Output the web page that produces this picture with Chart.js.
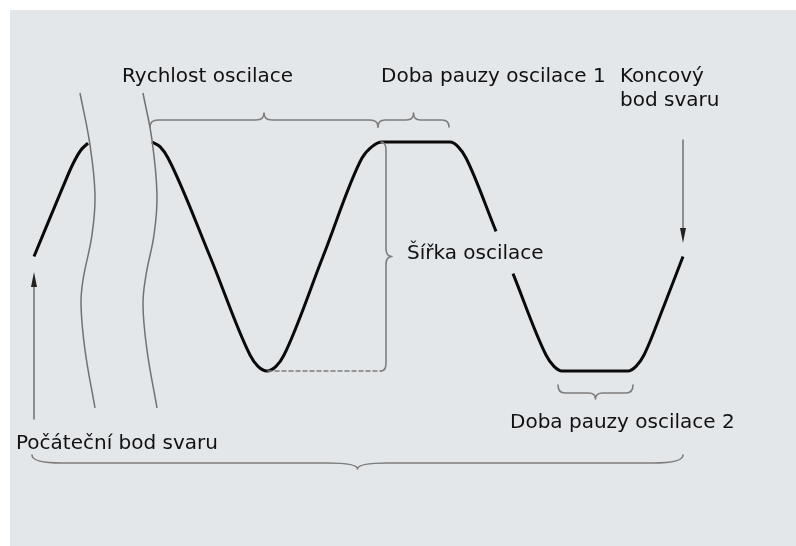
<!DOCTYPE html>
<html lang="cs">
<head>
<meta charset="utf-8">
<title>Oscilace svaru</title>
<script src="https://cdn.jsdelivr.net/npm/chart.js@4.4.1/dist/chart.umd.min.js"></script>
<style>
  html, body { margin: 0; padding: 0; background: #fff; }
  #wrap { width: 796px; height: 546px; }
</style>
</head>
<body>
<div id="wrap"><canvas id="weave" width="796" height="546"></canvas></div>
<script>
// weld path: position along the seam vs. oscillation amplitude (-1 = valley, 1 = peak)
// null = the path is interrupted there (break marks / label)
const weavePos = [34, 63, 73, 81, 88, 120,
  152, 160, 168, 210, 250, 258, 267, 276, 284, 323, 362, 372, 382,
  450, 458, 466, 496, 505,
  513, 546, 554, 562, 628, 636, 644, 664, 683];
const weaveAmp = [0, 0.61, 0.81, 0.93, 0.99, null,
  1.0, 0.96, 0.86, 0, -0.86, -0.96, -1.0, -0.96, -0.86, 0, 0.86, 0.96, 1.0,
  1.0, 0.96, 0.86, 0.22, null,
  -0.15, -0.86, -0.96, -1.0, -1.0, -0.96, -0.86, -0.43, 0.0];

// the two wavy "break" marks near the start
const break1Pos = [80, 90, 95, 92, 83, 81, 85, 95];
const break1Amp = [1.428, 0.974, 0.537, 0.188, -0.205, -0.424, -0.817, -1.323];
const break2Pos = [143, 152, 157, 154, 146, 143, 147, 157];
const break2Amp = [1.428, 1.017, 0.537, 0.188, -0.162, -0.424, -0.817, -1.323];

// labels
const labelSpeed = 'Rychlost oscilace';
const labelPause1 = 'Doba pauzy oscilace 1';
const labelEnd = ['Koncový', 'bod svaru'];
const labelWidth = 'Šířka oscilace';
const labelPause2 = 'Doba pauzy oscilace 2';
const labelStart = 'Počáteční bod svaru';

const FONT = '20px "DejaVu Sans", Verdana, sans-serif';
const TEXT = '#111';
const GREY = '#7d7d7d';

function zip(xs, ys) { return xs.map((x, i) => ({ x, y: ys[i] })); }

function px(chart, x, a) { return [chart.scales.x.getPixelForValue(x), chart.scales.y.getPixelForValue(a)]; }

// curly brace between p1 and p2, tip pointing along dir
function brace(ctx, p1, p2, dir, h, t, r, rt) {
  const L = Math.hypot(p2[0] - p1[0], p2[1] - p1[1]);
  const u = [(p2[0] - p1[0]) / L, (p2[1] - p1[1]) / L];
  const m = [(p1[0] + p2[0]) / 2, (p1[1] + p2[1]) / 2];
  const pt = (b, along, off) => [b[0] + u[0] * along + dir[0] * off, b[1] + u[1] * along + dir[1] * off];
  ctx.beginPath();
  ctx.moveTo(p1[0], p1[1]);
  let c = pt(p1, 0, h), e = pt(p1, r, h);
  ctx.quadraticCurveTo(c[0], c[1], e[0], e[1]);
  e = pt(m, -rt, h); ctx.lineTo(e[0], e[1]);
  c = pt(m, 0, h); e = pt(m, 0, t); ctx.quadraticCurveTo(c[0], c[1], e[0], e[1]);
  e = pt(m, rt, h); ctx.quadraticCurveTo(c[0], c[1], e[0], e[1]);
  e = pt(p2, -r, h); ctx.lineTo(e[0], e[1]);
  c = pt(p2, 0, h); ctx.quadraticCurveTo(c[0], c[1], p2[0], p2[1]);
  ctx.stroke();
}

function arrow(ctx, from, to) {
  const dy = Math.sign(to[1] - from[1]);
  ctx.strokeStyle = '#707070';
  ctx.lineWidth = 1.5;
  ctx.beginPath(); ctx.moveTo(from[0], from[1]); ctx.lineTo(to[0], to[1] - dy * 10); ctx.stroke();
  ctx.fillStyle = '#222';
  ctx.beginPath();
  ctx.moveTo(to[0], to[1]);
  ctx.lineTo(to[0] - 3, to[1] - dy * 15);
  ctx.lineTo(to[0] + 3, to[1] - dy * 15);
  ctx.closePath(); ctx.fill();
}

const background = {
  id: 'background',
  beforeDraw(chart) {
    const ctx = chart.ctx;
    ctx.save();
    ctx.fillStyle = '#fff';
    ctx.fillRect(0, 0, chart.width, chart.height);
    ctx.fillStyle = '#e4e7ea';
    ctx.fillRect(10, 10, chart.width - 10, chart.height - 10);
    ctx.restore();
  }
};

const notes = {
  id: 'notes',
  afterDatasetsDraw(chart) {
    const ctx = chart.ctx;
    ctx.save();
    ctx.lineCap = 'round';
    ctx.lineJoin = 'round';

    // dashed valley line to the width brace
    ctx.strokeStyle = GREY;
    ctx.lineWidth = 1.5;
    ctx.setLineDash([4, 3]);
    let a = px(chart, 268, -1), b = px(chart, 381, -1);
    ctx.beginPath(); ctx.moveTo(a[0], a[1]); ctx.lineTo(b[0], b[1]); ctx.stroke();
    ctx.setLineDash([]);

    ctx.strokeStyle = GREY;
    ctx.lineWidth = 1.6;
    brace(ctx, px(chart, 150, 1.131), px(chart, 378, 1.131), [0, -1], 7, 14, 8, 8);
    brace(ctx, px(chart, 378, 1.131), px(chart, 449, 1.131), [0, -1], 7, 14, 7, 7);
    brace(ctx, px(chart, 381, 1.0), px(chart, 381, -1.0), [1, 0], 5, 11, 8, 8);
    brace(ctx, px(chart, 558, -1.122), px(chart, 633, -1.122), [0, 1], 8, 14, 7, 7);
    brace(ctx, px(chart, 32, -1.734), px(chart, 683, -1.734), [0, 1], 8, 14, 30, 30);

    arrow(ctx, px(chart, 34, -1.419), px(chart, 34, -0.135));
    arrow(ctx, px(chart, 683, 1.018), px(chart, 683, 0.118));

    ctx.fillStyle = TEXT;
    ctx.font = FONT;
    ctx.textAlign = 'left';
    ctx.textBaseline = 'alphabetic';
    const put = (s, x, y) => { const p = px(chart, x, y); ctx.fillText(s, p[0], p[1]); };
    put(labelSpeed, 122, 1.524);
    put(labelPause1, 381, 1.524);
    put(labelEnd[0], 620, 1.524);
    put(labelEnd[1], 620, 1.314);
    put(labelWidth, 407, -0.022);
    put(labelPause2, 510, -1.498);
    put(labelStart, 16, -1.681);
    ctx.restore();
  }
};

new Chart(document.getElementById('weave'), {
  type: 'scatter',
  data: {
    datasets: [
      { data: zip(break1Pos, break1Amp), showLine: true, borderColor: '#727272', borderWidth: 1.5, pointRadius: 0, tension: 0.4 },
      { data: zip(break2Pos, break2Amp), showLine: true, borderColor: '#727272', borderWidth: 1.5, pointRadius: 0, tension: 0.4 },
      { data: zip(weavePos, weaveAmp), showLine: true, borderColor: '#0a0a0a', borderWidth: 3, pointRadius: 0,
        cubicInterpolationMode: 'monotone', spanGaps: false, borderCapStyle: 'butt', borderJoinStyle: 'round' }
    ]
  },
  options: {
    responsive: false,
    animation: false,
    events: [],
    layout: { padding: 0 },
    plugins: { legend: { display: false }, tooltip: { enabled: false } },
    scales: {
      x: { type: 'linear', display: false, min: 0, max: 796 },
      y: { type: 'linear', display: false, min: -2.5284, max: 2.2402 }
    }
  },
  plugins: [background, notes]
});
</script>
</body>
</html>
